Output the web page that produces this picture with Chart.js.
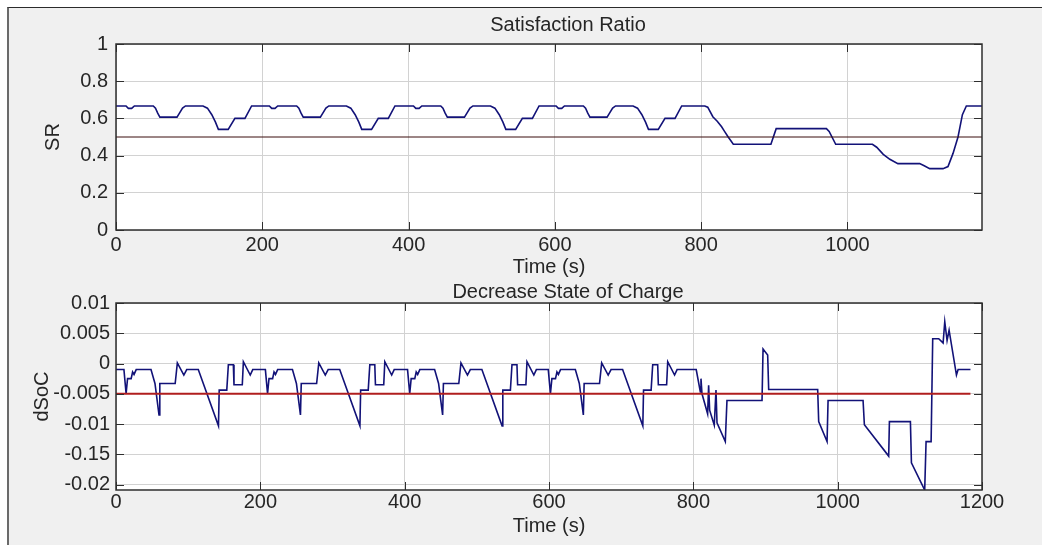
<!DOCTYPE html>
<html>
<head>
<meta charset="utf-8">
<script src="https://cdn.jsdelivr.net/npm/chart.js@4"></script>
<style>
  html, body { margin: 0; padding: 0; background: #fff; overflow: hidden; width: 1042px; height: 545px; }
  #figure { position: absolute; left: 7px; top: 7px; width: 1033px; height: 537px; background: #f0f0f0; border-left: 2px solid #6a6a6a; border-top: 1px solid #2b2b2b; }
  canvas { position: absolute; left: 0; }
</style>
</head>
<body>
<div id="figure"></div>
<canvas id="srChart" width="1136" height="280" style="top:0px"></canvas>
<canvas id="socChart" width="1136" height="265" style="top:280px"></canvas>
<script>
// Satisfaction Ratio (time in s, value)
const srTime = [
    0, 13.7, 16.9, 21.4, 25.1, 51, 54, 57, 60, 83.4, 87, 91, 95, 119, 125, 131, 136, 140, 153.4, 162.6, 176.3, 185.4,
    209.7, 212.9, 217.4, 221.1, 247, 250, 253, 256, 279.4, 283, 287, 291, 315, 321, 327, 332, 336, 349.4, 358.6, 372.3, 381.4,
    406.7, 409.9, 414.4, 418.1, 444, 447, 450, 453, 476.4, 480, 484, 488, 512, 518, 524, 529, 533, 546.4, 555.6, 569.3, 578.4,
    601.7, 604.9, 609.4, 613.1, 639, 642, 645, 648, 671.4, 675, 679, 683, 707, 713, 719, 724, 728, 741.4, 750.6, 764.3, 773.4,
    805, 809, 816, 822, 828, 832, 837, 844, 895.4, 902.6, 971.3, 975, 984, 1034.2, 1040, 1049, 1058, 1069,
    1098.8, 1105, 1112.5, 1130.7, 1137.5, 1144.4, 1151.2, 1157.2, 1162.6, 1184
];
const srValue = [
    0.667, 0.667, 0.654, 0.654, 0.667, 0.667, 0.655, 0.628, 0.607, 0.607, 0.63, 0.655, 0.667, 0.667, 0.655, 0.62, 0.58, 0.541, 0.541, 0.6, 0.6, 0.667,
    0.667, 0.654, 0.654, 0.667, 0.667, 0.655, 0.628, 0.607, 0.607, 0.63, 0.655, 0.667, 0.667, 0.655, 0.62, 0.58, 0.541, 0.541, 0.6, 0.6, 0.667,
    0.667, 0.654, 0.654, 0.667, 0.667, 0.655, 0.628, 0.607, 0.607, 0.63, 0.655, 0.667, 0.667, 0.655, 0.62, 0.58, 0.541, 0.541, 0.6, 0.6, 0.667,
    0.667, 0.654, 0.654, 0.667, 0.667, 0.655, 0.628, 0.607, 0.607, 0.63, 0.655, 0.667, 0.667, 0.655, 0.62, 0.58, 0.541, 0.541, 0.6, 0.6, 0.667,
    0.667, 0.66, 0.609, 0.585, 0.555, 0.53, 0.5, 0.461, 0.461, 0.545, 0.545, 0.53, 0.461, 0.461, 0.445, 0.407, 0.38, 0.357,
    0.357, 0.345, 0.33, 0.33, 0.341, 0.412, 0.5, 0.62, 0.667, 0.667
];
const srLimit = 0.5;

// Decrease State of Charge (time in s, value)
const socTime = [
    0, 11, 14, 16, 21, 23, 25, 28, 48.5, 54, 59.6, 60.7, 82, 85, 94, 98, 114, 142, 143, 153.5, 155.7, 162.6, 163.5, 175, 176.5, 186, 189.5,
    207, 210, 212, 217, 219, 221, 224, 244.5, 250, 255.6, 256.7, 278, 281, 290, 294, 310, 338, 339, 349.5, 351.7, 358.6, 359.5, 371, 372.5, 382, 385.5,
    404, 407, 409, 414, 416, 418, 421, 441.5, 447, 452.6, 453.7, 475, 478, 487, 491, 507, 535, 536, 546.5, 548.7, 555.6, 556.5, 568, 569.5, 579, 582.5,
    599, 602, 604, 609, 611, 613, 616, 636.5, 642, 647.6, 648.7, 670, 673, 682, 686, 702, 730, 731, 741.5, 743.7, 750.6, 751.5, 763, 764.5, 774, 777.5,
    804, 809.7, 810.6, 812, 819.8, 821.2, 822.6, 829, 831.4, 832.8, 844.3, 846.6, 895.2, 896.6, 903, 904.4, 972.3, 973.7, 985.3, 986.7,
    1035.2, 1037, 1070.7, 1071.7, 1100.8, 1102.2, 1120.6, 1122.5, 1129.5, 1131.7, 1140, 1146.1, 1148.4, 1151.6, 1154.4, 1164.6, 1166.9, 1184
];
const socValue = [
    -0.001, -0.001, -0.005, -0.0025, -0.0025, -0.0014, -0.0018, -0.001, -0.001, -0.0033, -0.0085, -0.0033, -0.0033, 0.0001, -0.0019, -0.001, -0.001, -0.0103, -0.0044, -0.0044, -0.0002, -0.0002, -0.0035, -0.0035, 0.0003, -0.0019, -0.001,
    -0.001, -0.005, -0.0025, -0.0025, -0.0014, -0.0018, -0.001, -0.001, -0.0033, -0.0085, -0.0033, -0.0033, 0.0001, -0.0019, -0.001, -0.001, -0.0103, -0.0044, -0.0044, -0.0002, -0.0002, -0.0035, -0.0035, 0.0003, -0.0019, -0.001,
    -0.001, -0.005, -0.0025, -0.0025, -0.0014, -0.0018, -0.001, -0.001, -0.0033, -0.0085, -0.0033, -0.0033, 0.0001, -0.0019, -0.001, -0.001, -0.0103, -0.0044, -0.0044, -0.0002, -0.0002, -0.0035, -0.0035, 0.0003, -0.0019, -0.001,
    -0.001, -0.005, -0.0025, -0.0025, -0.0014, -0.0018, -0.001, -0.001, -0.0033, -0.0085, -0.0033, -0.0033, 0.0001, -0.0019, -0.001, -0.001, -0.0103, -0.0044, -0.0044, -0.0002, -0.0002, -0.0035, -0.0035, 0.0003, -0.0019, -0.001,
    -0.001, -0.0047, -0.0025, -0.005, -0.0083, -0.0036, -0.0077, -0.0102, -0.0044, -0.0098, -0.0129, -0.0061, -0.0061, 0.0024, 0.0014, -0.0043, -0.0043, -0.0096, -0.0129, -0.0061,
    -0.0061, -0.0101, -0.0153, -0.0096, -0.0096, -0.0164, -0.0209, -0.0129, -0.0129, 0.0041, 0.0041, 0.0034, 0.0069, 0.0038, 0.0055, -0.0019, -0.001, -0.001
];
const socLimit = -0.005;

// axis ticks
const srXTicks = [0, 200, 400, 600, 800, 1000];
const srYTicks = [0, 0.2, 0.4, 0.6, 0.8, 1];
const socXTicks = [0, 200, 400, 600, 800, 1000, 1200];
const socYTicks = [0.01, 0.005, 0, -0.005, -0.01, -0.015, -0.02];
const socYTickLabels = ['0.01', '0.005', '0', '-0.005', '-0.01', '-0.15', '-0.02'];

Chart.defaults.font.family = "'Liberation Sans', Arial, sans-serif";
Chart.defaults.color = '#262626';

// white axes area, box and inward tick marks like a matlab figure
const matlabBox = {
    id: 'matlabBox',
    beforeDraw(chart) {
        const a = chart.chartArea, ctx = chart.ctx;
        ctx.save();
        ctx.fillStyle = '#ffffff';
        ctx.fillRect(a.left, a.top, a.right - a.left, a.bottom - a.top);
        ctx.restore();
    },
    afterDraw(chart) {
        const a = chart.chartArea, ctx = chart.ctx, len = 8;
        ctx.save();
        ctx.strokeStyle = '#2e2e2e';
        ctx.lineWidth = 1;
        ctx.beginPath();
        chart.scales.x.ticks.forEach(t => {
            const px = Math.round(chart.scales.x.getPixelForValue(t.value)) + 0.5;
            ctx.moveTo(px, a.bottom); ctx.lineTo(px, a.bottom - len);
            ctx.moveTo(px, a.top); ctx.lineTo(px, a.top + len);
        });
        chart.scales.y.ticks.forEach(t => {
            const py = Math.round(chart.scales.y.getPixelForValue(t.value)) + 0.5;
            ctx.moveTo(a.left, py); ctx.lineTo(a.left + len, py);
            ctx.moveTo(a.right, py); ctx.lineTo(a.right - len, py);
        });
        ctx.stroke();
        ctx.lineWidth = 1.5;
        ctx.strokeRect(a.left, a.top, a.right - a.left, a.bottom - a.top);
        ctx.restore();
    }
};

function points(xs, ys) {
    return xs.map((x, i) => ({ x: x, y: ys[i] }));
}

// empty axis on the right, keeps the figure margin so the title sits where matlab puts it
const rightMargin = {
    type: 'linear',
    position: 'right',
    afterFit: s => { s.width = 154; },
    grid: { display: false },
    border: { display: false },
    ticks: { display: false }
};

// Satisfaction Ratio chart
const srChart = new Chart(document.getElementById('srChart'), {
    type: 'line',
    data: {
        datasets: [{
            data: points([0, 1184], [srLimit, srLimit]),
            borderColor: '#3a0c0c',
            borderWidth: 1
        }, {
            data: points(srTime, srValue),
            borderColor: '#121278',
            borderWidth: 1.6
        }]
    },
    options: {
        responsive: false,
        devicePixelRatio: 1,
        animation: false,
        events: [],
        elements: { point: { radius: 0 }, line: { tension: 0 } },
        layout: { padding: 0 },
        plugins: {
            legend: { display: false },
            tooltip: { enabled: false },
            title: {
                display: true,
                text: 'Satisfaction Ratio',
                color: '#262626',
                font: { size: 20, weight: 'normal', lineHeight: 1.2 },
                padding: { top: 13, bottom: 7 }
            }
        },
        scales: {
            x: {
                type: 'linear',
                min: 0,
                max: 1184,
                afterFit: s => { s.height = 50; },
                afterBuildTicks: s => { s.ticks = srXTicks.map(v => ({ value: v })); },
                grid: { color: '#d2d2d2', drawTicks: false },
                border: { display: false },
                ticks: { padding: 5, autoSkip: false, maxRotation: 0, font: { size: 20, lineHeight: 1 }, callback: v => String(v) },
                title: { display: true, text: 'Time (s)', font: { size: 20, lineHeight: 1 }, padding: { top: 0, bottom: 3 } }
            },
            y: {
                min: 0,
                max: 1,
                afterFit: s => { s.width = 116; },
                afterBuildTicks: s => { s.ticks = srYTicks.map(v => ({ value: v })); },
                grid: { color: '#d2d2d2', drawTicks: false },
                border: { display: false },
                ticks: { padding: 8, autoSkip: false, font: { size: 20, lineHeight: 1 }, callback: v => String(v) },
                title: { display: true, text: 'SR', font: { size: 20, lineHeight: 1 }, padding: { top: 43, bottom: 0 } }
            },
            margin: rightMargin
        }
    },
    plugins: [matlabBox]
});

// Decrease State of Charge chart
const socChart = new Chart(document.getElementById('socChart'), {
    type: 'line',
    data: {
        datasets: [{
            data: points([0, 1184], [socLimit, socLimit]),
            borderColor: '#b01e1e',
            borderWidth: 2
        }, {
            data: points(socTime, socValue),
            borderColor: '#121278',
            borderWidth: 1.6
        }]
    },
    options: {
        responsive: false,
        devicePixelRatio: 1,
        animation: false,
        events: [],
        elements: { point: { radius: 0 }, line: { tension: 0 } },
        layout: { padding: 0 },
        plugins: {
            legend: { display: false },
            tooltip: { enabled: false },
            title: {
                display: true,
                text: 'Decrease State of Charge',
                color: '#262626',
                font: { size: 20, weight: 'normal', lineHeight: 1 },
                padding: { top: 2, bottom: 1 }
            }
        },
        scales: {
            x: {
                type: 'linear',
                min: 0,
                max: 1200,
                afterFit: s => { s.height = 55; },
                afterBuildTicks: s => { s.ticks = socXTicks.map(v => ({ value: v })); },
                grid: { color: '#d2d2d2', drawTicks: false },
                border: { display: false },
                ticks: { padding: 2, autoSkip: false, maxRotation: 0, font: { size: 20, lineHeight: 1 }, callback: v => String(v) },
                title: { display: true, text: 'Time (s)', font: { size: 20, lineHeight: 1 }, padding: { top: 0, bottom: 9 } }
            },
            y: {
                min: -0.0209,
                max: 0.01,
                afterFit: s => { s.width = 116; },
                afterBuildTicks: s => { s.ticks = socYTicks.map(v => ({ value: v })); },
                grid: { color: '#d2d2d2', drawTicks: false },
                border: { display: false },
                ticks: {
                    padding: 6, autoSkip: false, font: { size: 20, lineHeight: 1 },
                    callback: v => socYTickLabels[socYTicks.findIndex(t => Math.abs(t - v) < 1e-9)]
                },
                title: { display: true, text: 'dSoC', font: { size: 20, lineHeight: 1 }, padding: { top: 32, bottom: 0 } }
            },
            margin: rightMargin
        }
    },
    plugins: [matlabBox]
});
</script>
</body>
</html>
